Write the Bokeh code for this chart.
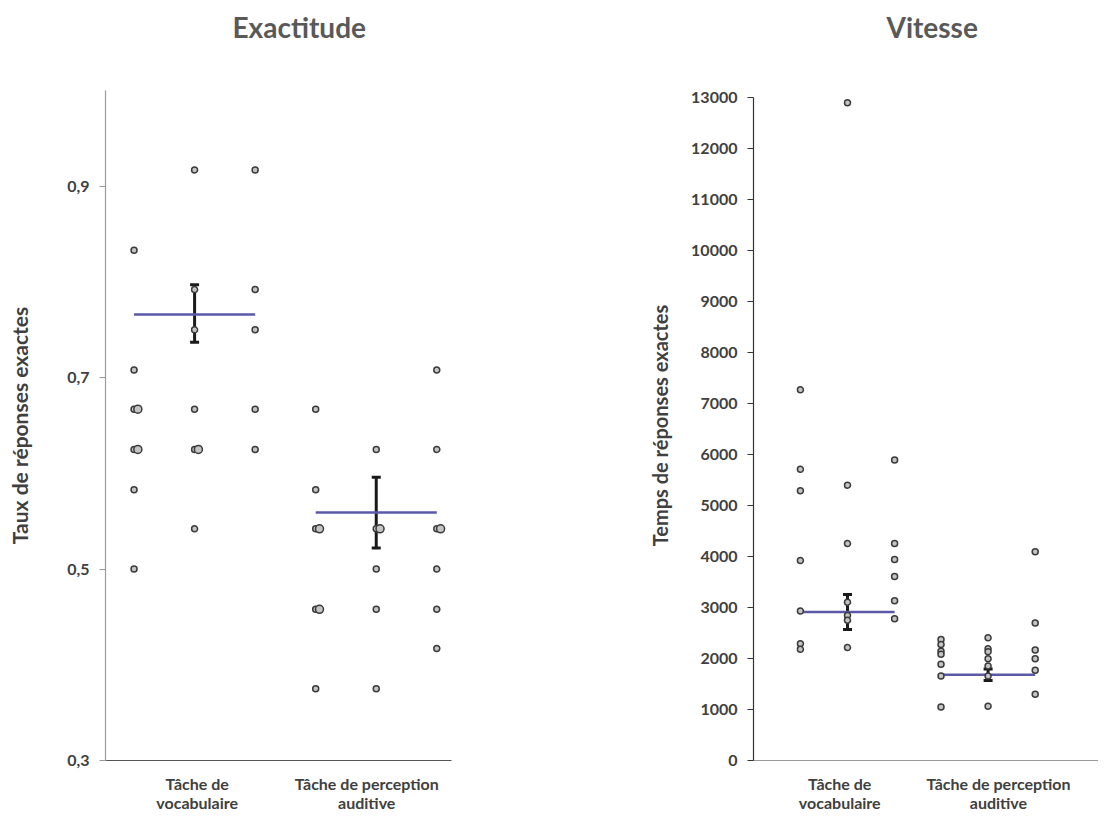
from bokeh.plotting import figure
from bokeh.layouts import row
from bokeh.models import (Range1d, FixedTicker, CustomJSTickFormatter, NumeralTickFormatter,
                          Whisker, TeeHead, ColumnDataSource, Title)
from bokeh.embed import file_html
from bokeh.resources import INLINE

# ---------------- data ----------------
categories = ["Tâche de\nvocabulaire", "Tâche de perception\nauditive"]

# Exactitude (taux de réponses exactes), three point columns per task
acc_vocab_a = [0.833, 0.708, 0.667, 0.667, 0.625, 0.625, 0.583, 0.500]
acc_vocab_b = [0.917, 0.792, 0.750, 0.667, 0.625, 0.625, 0.542]
acc_vocab_c = [0.917, 0.792, 0.750, 0.667, 0.625]
acc_percep_a = [0.667, 0.583, 0.542, 0.542, 0.458, 0.458, 0.375]
acc_percep_b = [0.625, 0.542, 0.542, 0.500, 0.458, 0.375]
acc_percep_c = [0.708, 0.625, 0.542, 0.542, 0.500, 0.458, 0.417]
acc_mean = [0.766, 0.559]
acc_low = [0.737, 0.522]
acc_high = [0.797, 0.596]
acc_ticks = [0.3, 0.5, 0.7, 0.9]

# Vitesse (temps de réponses exactes, ms)
rt_vocab_a = [7270, 5710, 5290, 3920, 2930, 2290, 2180]
rt_vocab_b = [12900, 5400, 4255, 3105, 2845, 2750, 2215]
rt_vocab_c = [5895, 4255, 3940, 3610, 3135, 2780]
rt_percep_a = [2375, 2275, 2145, 2085, 1890, 1655, 1050]
rt_percep_b = [2405, 2190, 2135, 1995, 1855, 1655, 1065]
rt_percep_c = [4095, 2695, 2165, 1995, 1770, 1300]
rt_mean = [2910, 1680]
rt_low = [2570, 1570]
rt_high = [3255, 1795]
rt_ticks = list(range(0, 13001, 1000))

# ---------------- style ----------------
FONT = "Lato"
TXT = "#404040"
MEAN_COLOR = "#5b58a8"
PT_FILL = "#c4c4c4"
PT_LINE = "#3a3a3a"
HEIGHT = 816
MB_TOP = 90
MB_BOTTOM = 56


def build_points(cols, centers, spacing):
    xs, ys, sizes = [], [], []
    for g, group in enumerate(cols):
        for c, vals in enumerate(group):
            xc = centers[g] + (c - 1) * spacing
            seen = {}
            for v in vals:
                k = seen.get(v, 0)
                seen[v] = k + 1
                xs.append(xc + 0.022 * k)
                ys.append(v)
                sizes.append(6 if k == 0 else 8)
    return ColumnDataSource(dict(x=xs, y=ys, size=sizes))


def make_panel(title, ylabel, cols, means, lows, highs, centers, spacing, label_pos,
               yr, ybounds, yticks, yfmt, width, mbl, mbr, title_offset,
               ycolor, xcolor, label_standoff, label_size):
    p = figure(width=width, height=HEIGHT, x_range=Range1d(0.5, 2.5), y_range=Range1d(*yr),
               output_backend="svg", toolbar_location=None,
               min_border_left=mbl, min_border_right=mbr, min_border_top=MB_TOP,
               min_border_bottom=MB_BOTTOM)
    p.outline_line_color = None
    p.xgrid.visible = False
    p.ygrid.visible = False
    p.background_fill_color = "white"
    p.border_fill_color = "white"

    # spacer between the frame and the title, then the title itself
    p.add_layout(Title(text=" ", text_font_size="1px", standoff=42,
                       text_color="white"), "above")
    p.add_layout(Title(text=title, align="left", offset=title_offset,
                       vertical_align="top", standoff=0, text_font=FONT,
                       text_font_size="28px", text_font_style="bold",
                       text_color="#595959"), "above")

    # error bars
    wsrc = ColumnDataSource(dict(base=centers, lower=lows, upper=highs))
    w = Whisker(base="base", lower="lower", upper="upper", source=wsrc,
                line_width=3, line_color="#1a1a1a", level="underlay",
                upper_head=TeeHead(size=9, line_width=3, line_color="#1a1a1a"),
                lower_head=TeeHead(size=9, line_width=3, line_color="#1a1a1a"))
    p.add_layout(w)

    # mean lines
    msrc = ColumnDataSource(dict(x0=[c - spacing for c in centers],
                                 x1=[c + spacing for c in centers], y=means))
    p.segment(x0="x0", y0="y", x1="x1", y1="y", source=msrc,
              line_color=MEAN_COLOR, line_width=2.5)

    # points
    src = build_points(cols, centers, spacing)
    p.scatter("x", "y", size="size", source=src, marker="circle",
              fill_color=PT_FILL, line_color=PT_LINE, line_width=1.5)

    # y axis
    ya = p.yaxis[0]
    ya.bounds = ybounds
    ya.ticker = FixedTicker(ticks=yticks)
    ya.formatter = yfmt
    ya.axis_label = ylabel
    ya.axis_label_text_font = FONT
    ya.axis_label_text_font_style = "bold"
    ya.axis_label_text_font_size = label_size
    ya.axis_label_text_color = TXT
    ya.axis_label_standoff = label_standoff
    ya.major_label_text_font = FONT
    ya.major_label_text_font_style = "bold"
    ya.major_label_text_font_size = "16px"
    ya.major_label_text_color = TXT
    ya.major_label_standoff = 10
    ya.major_tick_out = 6
    ya.major_tick_in = 0
    ya.minor_tick_line_color = None
    ya.axis_line_color = ycolor
    ya.major_tick_line_color = ycolor
    ya.axis_line_width = 1.2

    # x axis
    xa = p.xaxis[0]
    xa.ticker = FixedTicker(ticks=label_pos)
    xa.formatter = CustomJSTickFormatter(args=dict(labels=categories),
                                         code="return labels[index];")
    xa.major_label_text_font = FONT
    xa.major_label_text_font_style = "bold"
    xa.major_label_text_font_size = "16px"
    xa.major_label_text_color = TXT
    xa.major_label_text_line_height = 1.0
    xa.major_label_standoff = 13
    xa.major_tick_line_color = None
    xa.major_tick_out = 0
    xa.major_tick_in = 0
    xa.minor_tick_line_color = None
    xa.axis_line_color = xcolor
    xa.axis_line_width = 1.2
    return p


p1 = make_panel("Exactitude", "Taux de réponses exactes",
                [[acc_vocab_a, acc_vocab_b, acc_vocab_c],
                 [acc_percep_a, acc_percep_b, acc_percep_c]],
                acc_mean, acc_low, acc_high,
                centers=[1.015, 2.065], spacing=0.35, label_pos=[1.03, 2.01],
                yr=(0.3, 1.0), ybounds=(0.3, 1.0), yticks=acc_ticks,
                yfmt=CustomJSTickFormatter(code="return tick.toFixed(1).replace('.', ',');"),
                width=625, mbl=105, mbr=174, title_offset=127,
                ycolor="#9a9a9a", xcolor="#555555", label_standoff=32, label_size="21px")

p2 = make_panel("Vitesse", "Temps de réponses exactes",
                [[rt_vocab_a, rt_vocab_b, rt_vocab_c],
                 [rt_percep_a, rt_percep_b, rt_percep_c]],
                rt_mean, rt_low, rt_high,
                centers=[1.045, 1.86], spacing=0.273, label_pos=[1.0, 1.92],
                yr=(0, 13140), ybounds=(0, 13000), yticks=rt_ticks,
                yfmt=NumeralTickFormatter(format="0"),
                width=473, mbl=128, mbr=0, title_offset=133,
                ycolor="#333333", xcolor="#9a9a9a", label_standoff=16, label_size="20px")

layout = row(p1, p2)
open("out.html", "w").write(file_html(layout, INLINE))
